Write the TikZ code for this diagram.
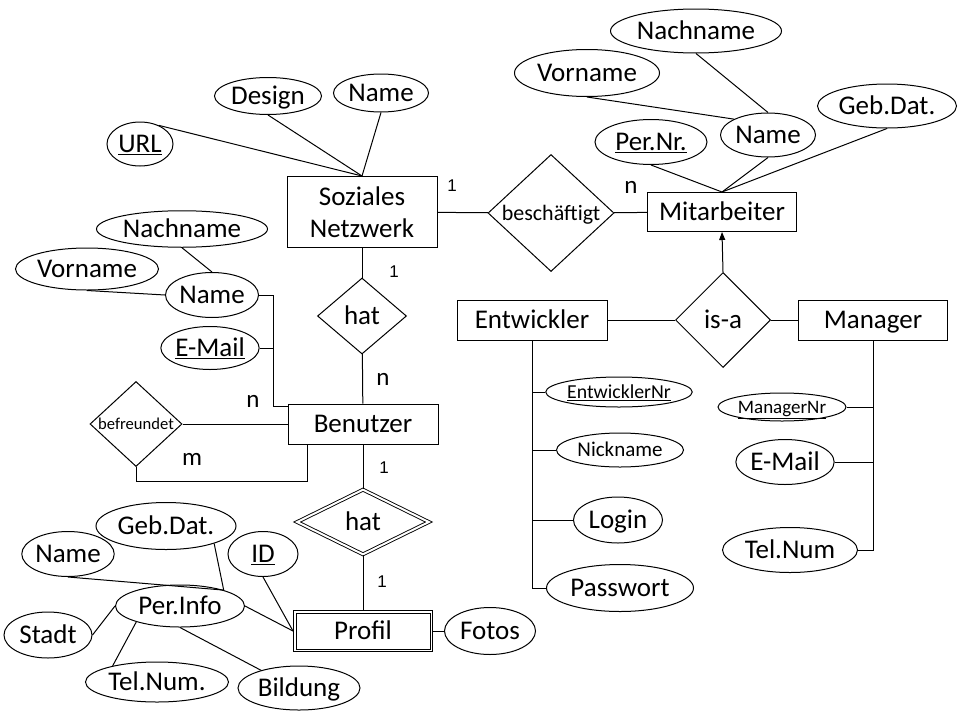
\documentclass[tikz,border=0pt]{standalone}
\usepackage{fontspec}
\setmainfont{Carlito}
\newfontfamily\numfont{Liberation Sans}
\usepackage{tikz}
\usetikzlibrary{shapes.geometric,arrows.meta}

\begin{document}
\begin{tikzpicture}[x=1pt,y=-1pt,line width=1pt,>={Triangle[length=8pt,width=6pt]},
		font=\fontsize{27}{32}\selectfont,
		txt/.style={text height=0.8*#1,text depth=0.156*#1},txt/.default=27pt,
		netz/.style 2 args={draw,rectangle,inner sep=0pt,minimum width=#1,minimum height=#2,align=center},
		entity/.style 2 args={netz={#1}{#2},txt},
		attr/.style 2 args={draw,ellipse,inner sep=0pt,minimum width=#1,minimum height=#2,txt},
		rel/.style 2 args={draw,diamond,inner sep=0pt,minimum width=#1,minimum height=#2},
		every label/.style={txt},
		weak/.style={double,double distance=2pt,line width=0.9pt},
		one/.style={font=\numfont\fontsize{17}{20}\selectfont},
		many/.style={font=\fontsize{25}{30}\selectfont}]
		\useasboundingbox (0,0) rectangle (960,720);

		% entities
		\node[netz={150}{71}] (snet) at (362,212) {Soziales\\Netzwerk};
		\node[entity={150}{40}] (benutzer) at (363,424) {Benutzer};
		\node[entity={139}{41}] (profil) at (363,631) {Profil};
		\draw ([shift={(3,3)}]profil.north west) rectangle ([shift={(-3,-3)}]profil.south east);
		\node[entity={149}{39}] (mitarb) at (722,212) {Mitarbeiter};
		\node[entity={150}{40}] (entw) at (532,320) {Entwickler};
		\node[entity={149}{40}] (manager) at (873,320) {Manager};

		% relationships
		\node[rel={89}{76},label=center:hat] (hat1) at (362,316) {};
		\node[rel={92}{85},label={[font=\fontsize{16.6}{20}\selectfont,txt=16.6pt]center:befreundet}] (befr) at (136,424) {};
		\node[rel={132}{65},weak,label=center:hat] (hat2) at (363,522) {};
		\node[rel={126}{117},label={[font=\fontsize{22}{26}\selectfont,txt=22pt]center:beschäftigt}] (besch) at (551,213) {};
		\node[rel={95}{95},label=center:is-a] (isa) at (723,320) {};

		% attributes
		\node[attr={66}{44}] (url) at (140,144) {\underline{URL}};
		\node[attr={107}{37}] (design) at (268,96) {Design};
		\node[attr={95}{38}] (sname) at (381,93) {Name};
		\node[attr={171}{36}] (bnach) at (182,229) {Nachname};
		\node[attr={143}{42}] (bvor) at (87,269) {Vorname};
		\node[attr={93}{45}] (bname) at (212,295) {Name};
		\node[attr={97}{43}] (bmail) at (210,348) {\underline{E-Mail}};
		\node[attr={171}{44}] (mnach) at (696,31) {Nachname};
		\node[attr={145}{47}] (mvor) at (587,73) {Vorname};
		\node[attr={95}{44}] (mname) at (768,135) {Name};
		\node[attr={112}{45}] (mpernr) at (651,142) {\underline{Per.Nr.}};
		\node[attr={139}{44}] (mgeb) at (887,106) {Geb.Dat.};
		\node[attr={146}{30},font=\fontsize{19.8}{24}\selectfont,txt=19.8pt] (entwnr) at (619,392) {\underline{EntwicklerNr}};
		\node[attr={127}{34},font=\fontsize{21}{25}\selectfont,txt=21pt] (nick) at (620,450) {Nickname};
		\node[attr={89}{46}] (login) at (618,520) {Login};
		\node[attr={147}{47}] (passw) at (620,588) {Passwort};
		\node[attr={128}{28},font=\fontsize{19}{23}\selectfont,txt=19pt] (mgrnr) at (782,407) {\underline{ManagerNr}};
		\node[attr={97}{45}] (memail) at (785,462) {E-Mail};
		\node[attr={135}{45}] (mtel) at (790,550) {Tel.Num};
		\node[attr={70}{45}] (id) at (263,554) {\underline{ID}};
		\node[attr={91}{47}] (fotos) at (490,631) {Fotos};
		\node[attr={140}{47}] (pgeb) at (166,526) {Geb.Dat.};
		\node[attr={92}{45}] (pname) at (68,554) {Name};
		\node[attr={129}{42}] (perinfo) at (180,606) {Per.Info};
		\node[attr={88}{46}] (stadt) at (48,635) {Stadt};
		\node[attr={143}{40}] (ptel) at (157,682) {Tel.Num.};
		\node[attr={122}{44}] (bildung) at (299,688) {Bildung};

		% cardinalities
		\node[one] (c1) at (452,186) {1};
		\node[many] (c2) at (631,187) {n};
		\node[one] (c3) at (394,272) {1};
		\node[many] (c4) at (383,379) {n};
		\node[many] (c5) at (253,401) {n};
		\node[many] (c6) at (192,459) {m};
		\node[one] (c7) at (384,468) {1};
		\node[one] (c8) at (382,582) {1};

		% Soziales Netzwerk
		\path (url.45) edge (snet.north)
			(design.south) edge (snet.north)
			(sname.south) edge (snet.north);
		\path (snet) edge (besch) (besch) edge (mitarb);
		\path (snet) edge (hat1) (hat1) edge (benutzer);

		% Mitarbeiter
		\path (mpernr.south) edge (mitarb.north)
			(mname.south) edge (mitarb.north)
			(mgeb.south) edge (mitarb.north)
			(mnach.south) edge (mname.north)
			(mvor.south) edge (mname.155);
		\path (entw) edge (isa) (isa) edge (manager);
		\draw[->] (isa.north) -- (mitarb.south);

		% Benutzer
		\path (bnach.south) edge (bname.north) (bvor.south) edge (bname.west);
		\coordinate (bjoin) at (273,406);
		\draw (bname.east) -| (bjoin) -- (benutzer.north west |- bjoin);
		\draw (bmail.east) -- (bmail.east -| bjoin);
		\path (befr) edge (benutzer);
		\coordinate (bloop) at (307,481);
		\draw (befr.south) |- (bloop) -- (bloop |- benutzer.south);
		\path (benutzer) edge (hat2) (hat2) edge (profil) (profil) edge (fotos);

		% Profil
		\path (id.south) edge (profil.west) (perinfo.east) edge (profil.west);
		\path (pname.south) edge (perinfo.20)
			(pgeb.-20) edge (perinfo.20)
			(stadt.east) edge (perinfo.west)
			(ptel.160) edge (perinfo.200)
			(perinfo.south) edge (bildung.155);

		% Entwickler and Manager
		\draw (entw.south) |- (passw.west);
		\draw (entwnr.west) -- (entwnr.west -| entw.south);
		\draw (nick.west) -- (nick.west -| entw.south);
		\draw (login.west) -- (login.west -| entw.south);
		\draw (manager.south) |- (mtel.east);
		\draw (mgrnr.east) -- (mgrnr.east -| manager.south);
		\draw (memail.east) -- (memail.east -| manager.south);
\end{tikzpicture}
\end{document}
